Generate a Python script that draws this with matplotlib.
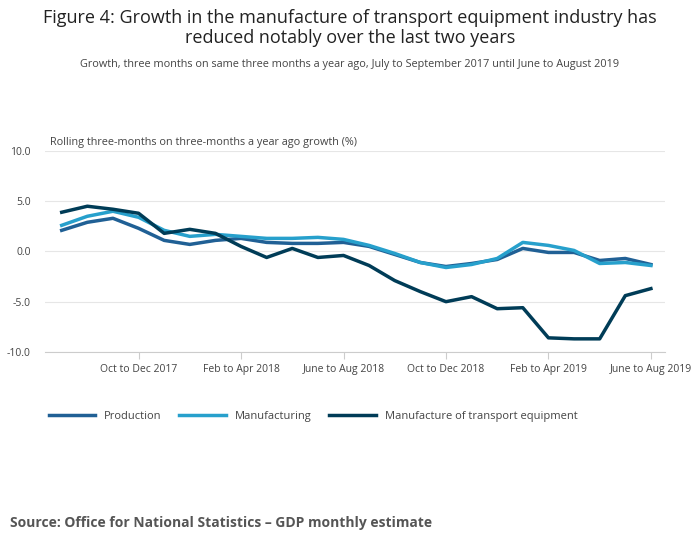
import numpy as np
import matplotlib.pyplot as plt

plt.rcParams['font.family'] = ['Open Sans', 'DejaVu Sans']

periods = ["Jul to Sep 2017", "Aug to Oct 2017", "Sep to Nov 2017", "Oct to Dec 2017",
           "Nov 2017 to Jan 2018", "Dec 2017 to Feb 2018", "Jan to Mar 2018", "Feb to Apr 2018",
           "Mar to May 2018", "Apr to Jun 2018", "May to Jul 2018", "June to Aug 2018",
           "Jul to Sep 2018", "Aug to Oct 2018", "Sep to Nov 2018", "Oct to Dec 2018",
           "Nov 2018 to Jan 2019", "Dec 2018 to Feb 2019", "Jan to Mar 2019", "Feb to Apr 2019",
           "Mar to May 2019", "Apr to Jun 2019", "May to Jul 2019", "June to Aug 2019"]
production = [2.1, 2.9, 3.3, 2.3, 1.1, 0.7, 1.1, 1.3, 0.9, 0.8, 0.8, 0.9,
              0.5, -0.3, -1.1, -1.5, -1.2, -0.8, 0.3, -0.1, -0.1, -0.9, -0.7, -1.3]
manufacturing = [2.6, 3.5, 4.0, 3.4, 2.1, 1.5, 1.7, 1.5, 1.3, 1.3, 1.4, 1.2,
                 0.6, -0.2, -1.1, -1.6, -1.3, -0.7, 0.9, 0.6, 0.1, -1.2, -1.1, -1.4]
transport = [3.9, 4.5, 4.2, 3.8, 1.8, 2.2, 1.8, 0.5, -0.6, 0.3, -0.6, -0.4,
             -1.4, -2.9, -4.0, -5.0, -4.5, -5.7, -5.6, -8.6, -8.7, -8.7, -4.4, -3.7]
tick_idx = [3, 7, 11, 15, 19, 23]

fig = plt.figure(figsize=(7, 5.49), dpi=100)
ax = fig.add_axes([0.064, 0.359, 0.886, 0.366])
x = np.arange(len(periods))
ax.plot(x, production, color='#206095', lw=2.5, label='Production')
ax.plot(x, manufacturing, color='#27a0cc', lw=2.5, label='Manufacturing')
ax.plot(x, transport, color='#003c57', lw=2.5, label='Manufacture of transport equipment')

ax.set_xlim(-0.66, 23.55)
ax.set_ylim(-10, 10)
ax.set_yticks([-10, -5, 0, 5, 10])
ax.set_yticklabels(['-10.0', '-5.0', '0.0', '5.0', '10.0'])
ax.set_xticks(tick_idx)
ax.set_xticklabels([periods[i] for i in tick_idx])
ax.tick_params(axis='y', length=0, labelsize=7.5, colors='#444444', pad=10)
ax.tick_params(axis='x', length=5, color='#cccccc', labelsize=7.5, colors='#444444')
ax.grid(axis='y', color='#e6e6e6', lw=0.8)
for s in ['top', 'right', 'left']:
    ax.spines[s].set_visible(False)
ax.spines['bottom'].set_position(('data', -10))
ax.spines['bottom'].set_color('#cccccc')
ax.set_axisbelow(True)

fig.text(0.5, 0.983, "Figure 4: Growth in the manufacture of transport equipment industry has\nreduced notably over the last two years",
         ha='center', va='top', fontsize=13, color='#222222', linespacing=1.1)
fig.text(0.5, 0.893, "Growth, three months on same three months a year ago, July to September 2017 until June to August 2019",
         ha='center', va='top', fontsize=7.8, color='#444444')
fig.text(0.071, 0.74, "Rolling three-months on three-months a year ago growth (%)",
         ha='left', va='center', fontsize=7.8, color='#444444')
fig.text(0.014, 0.048, "Source: Office for National Statistics – GDP monthly estimate",
         ha='left', va='center', fontsize=10, fontweight='bold', color='#555555')

fig.legend(loc='center left', bbox_to_anchor=(0.055, 0.242), ncol=3, frameon=False,
           fontsize=8, handlelength=4.2, columnspacing=1.6, labelcolor='#444444')

fig.savefig('out.png', dpi=100)
